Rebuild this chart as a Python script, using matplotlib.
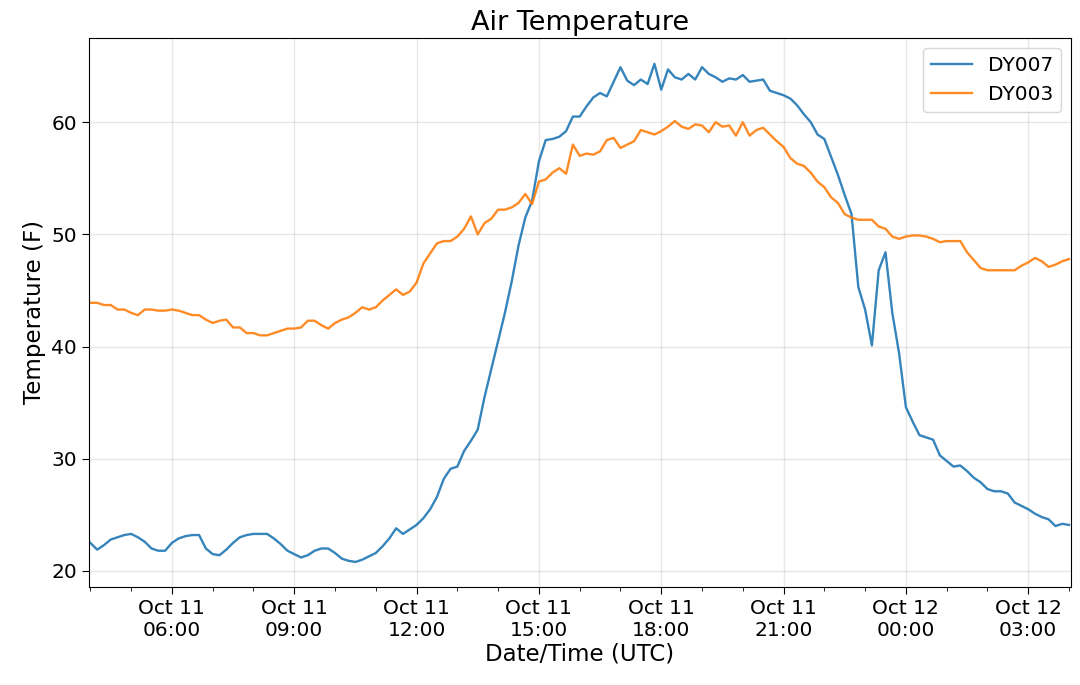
import matplotlib
matplotlib.use('Agg')
import matplotlib.pyplot as plt
import matplotlib.dates as mdates
import pandas as pd

# readings every 10 minutes, Oct 11 04:00 -> Oct 12 04:00 (UTC)
inicio = '2019-10-11 04:00'
fim = '2019-10-12 04:00'

dy007 = [
    22.5, 21.9, 22.3, 22.8, 23.0, 23.2, 23.3, 23.0, 22.6, 22.0,
    21.8, 21.8, 22.5, 22.9, 23.1, 23.2, 23.2, 22.0, 21.5, 21.4,
    21.9, 22.5, 23.0, 23.2, 23.3, 23.3, 23.3, 22.9, 22.4, 21.8,
    21.5, 21.2, 21.4, 21.8, 22.0, 22.0, 21.6, 21.1, 20.9, 20.8,
    21.0, 21.3, 21.6, 22.2, 22.9, 23.8, 23.3, 23.7, 24.1, 24.7,
    25.5, 26.6, 28.2, 29.1, 29.3, 30.7, 31.6, 32.6, 35.5, 38.0,
    40.5, 43.0, 45.8, 49.0, 51.5, 53.0, 56.5, 58.4, 58.5, 58.7,
    59.2, 60.5, 60.5, 61.4, 62.2, 62.6, 62.3, 63.6, 64.9, 63.7,
    63.3, 63.8, 63.4, 65.2, 62.9, 64.7, 64.0, 63.8, 64.3, 63.8,
    64.9, 64.3, 64.0, 63.6, 63.9, 63.8, 64.2, 63.6, 63.7, 63.8,
    62.8, 62.6, 62.4, 62.1, 61.5, 60.7, 60.0, 58.9, 58.5, 56.9,
    55.3, 53.5, 51.8, 45.3, 43.3, 40.1, 46.8, 48.4, 43.0, 39.4,
    34.6, 33.3, 32.1, 31.9, 31.7, 30.3, 29.8, 29.3, 29.4, 28.9,
    28.3, 27.9, 27.3, 27.1, 27.1, 26.9, 26.1, 25.8, 25.5, 25.1,
    24.8, 24.6, 24.0, 24.2, 24.1,
]

dy003 = [
    43.9, 43.9, 43.7, 43.7, 43.3, 43.3, 43.0, 42.8, 43.3, 43.3,
    43.2, 43.2, 43.3, 43.2, 43.0, 42.8, 42.8, 42.4, 42.1, 42.3,
    42.4, 41.7, 41.7, 41.2, 41.2, 41.0, 41.0, 41.2, 41.4, 41.6,
    41.6, 41.7, 42.3, 42.3, 41.9, 41.6, 42.1, 42.4, 42.6, 43.0,
    43.5, 43.3, 43.5, 44.1, 44.6, 45.1, 44.6, 44.9, 45.7, 47.4,
    48.3, 49.2, 49.4, 49.4, 49.8, 50.5, 51.6, 50.0, 51.0, 51.4,
    52.2, 52.2, 52.4, 52.8, 53.6, 52.7, 54.7, 54.9, 55.5, 55.9,
    55.4, 58.0, 57.0, 57.2, 57.1, 57.4, 58.4, 58.6, 57.7, 58.0,
    58.3, 59.3, 59.1, 58.9, 59.2, 59.6, 60.1, 59.6, 59.4, 59.8,
    59.7, 59.1, 60.0, 59.6, 59.7, 58.8, 60.0, 58.8, 59.3, 59.5,
    58.9, 58.3, 57.8, 56.8, 56.3, 56.1, 55.5, 54.7, 54.2, 53.3,
    52.8, 51.8, 51.5, 51.3, 51.3, 51.3, 50.7, 50.5, 49.8, 49.6,
    49.8, 49.9, 49.9, 49.8, 49.6, 49.3, 49.4, 49.4, 49.4, 48.4,
    47.7, 47.0, 46.8, 46.8, 46.8, 46.8, 46.8, 47.2, 47.5, 47.9,
    47.6, 47.1, 47.3, 47.6, 47.8,
]

tempos = pd.date_range(inicio, fim, freq='10min')

fig = plt.figure(figsize=(10.8, 6.85), dpi=100)
ax = fig.add_axes([0.0824, 0.1431, 0.9093, 0.8014])

ax.plot(tempos, dy007, color='#1f77b4', lw=1.7, alpha=0.9, label='DY007')
ax.plot(tempos, dy003, color='#ff7f0e', lw=1.7, alpha=0.9, label='DY003')

ax.set_xlim(pd.Timestamp('2019-10-11 03:58'), pd.Timestamp('2019-10-12 04:03'))
ax.set_ylim(18.57, 67.5)
ax.set_yticks([20, 30, 40, 50, 60])

ax.xaxis.set_major_locator(mdates.HourLocator(byhour=range(0, 24, 3)))
ax.xaxis.set_minor_locator(mdates.HourLocator())
ax.xaxis.set_major_formatter(mdates.DateFormatter('%b %d\n%H:%M'))

ax.grid(True, which='major', color='#b0b0b0', alpha=0.3, lw=1)
ax.tick_params(axis='both', which='major', labelsize=14.5, length=5)
ax.tick_params(axis='x', which='minor', length=3)

ax.set_title('Air Temperature', fontsize=19.5)
ax.set_xlabel('Date/Time (UTC)', fontsize=16.5, labelpad=2)
ax.set_ylabel('Temperature (F)', fontsize=16.5)
ax.legend(loc='upper right', fontsize=14.5)

fig.savefig('out.png', dpi=100)
